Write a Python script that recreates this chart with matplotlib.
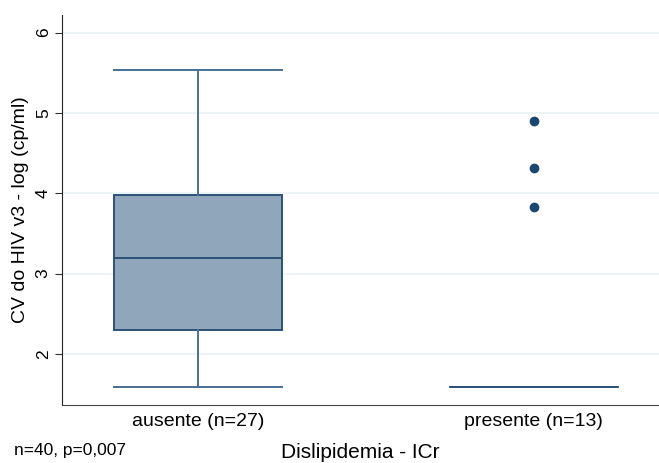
import matplotlib
matplotlib.use("Agg")
import matplotlib.pyplot as plt

plt.rcParams['font.family'] = ['Liberation Sans', 'DejaVu Sans']

groups = ['ausente (n=27)', 'presente (n=13)']
med = [3.20, 1.59]
q1 = [2.30, 1.59]
q3 = [3.98, 1.59]
whislo = [1.59, 1.59]
whishi = [5.53, 1.59]
fliers = [[], [4.90, 4.31, 3.83]]

navy = '#1a476f'
edge = '#2c5278'
whisk = '#4a6f92'

stats = []
for i in range(len(groups)):
    stats.append(dict(med=med[i], q1=q1[i], q3=q3[i], whislo=whislo[i],
                      whishi=whishi[i], fliers=fliers[i], label=groups[i]))

fig = plt.figure(figsize=(6.59, 4.63), dpi=100)
ax = fig.add_axes([0.094, 0.125, 0.906, 0.843])

ax.bxp(stats, positions=[1, 2], widths=0.5, patch_artist=True,
       boxprops=dict(facecolor='#8fa6bb', edgecolor=edge, linewidth=1.4),
       medianprops=dict(color=edge, linewidth=1.4),
       whiskerprops=dict(color=whisk, linewidth=1.4),
       capprops=dict(color=whisk, linewidth=1.4),
       flierprops=dict(marker='o', markerfacecolor=navy, markeredgecolor=navy, markersize=6),
       capwidths=0.5)

ax.set_xlim(0.594, 2.373)
ax.set_ylim(1.365, 6.22)
ax.set_yticks([2, 3, 4, 5, 6])
ax.set_yticklabels(['2', '3', '4', '5', '6'], rotation=90, va='center', fontsize=12.5)
ax.tick_params(axis='x', length=0, labelsize=14, pad=6)
ax.tick_params(axis='y', length=5, pad=3, color='#333333')
ax.grid(axis='y', color='#eaf2f3', linewidth=1.2)
ax.set_axisbelow(True)
for s in ['top', 'right']:
    ax.spines[s].set_visible(False)
ax.spines['left'].set_color('#222222')
ax.spines['bottom'].set_color('#444444')

ax.set_ylabel('CV do HIV v3 - log (cp/ml)', fontsize=14, labelpad=5)
fig.text(0.546, 0.022, 'Dislipidemia - ICr', fontsize=15, ha='center', va='center')
fig.text(0.022, 0.027, 'n=40, p=0,007', fontsize=12.5, ha='left', va='center')

fig.savefig('out.png', dpi=100)
